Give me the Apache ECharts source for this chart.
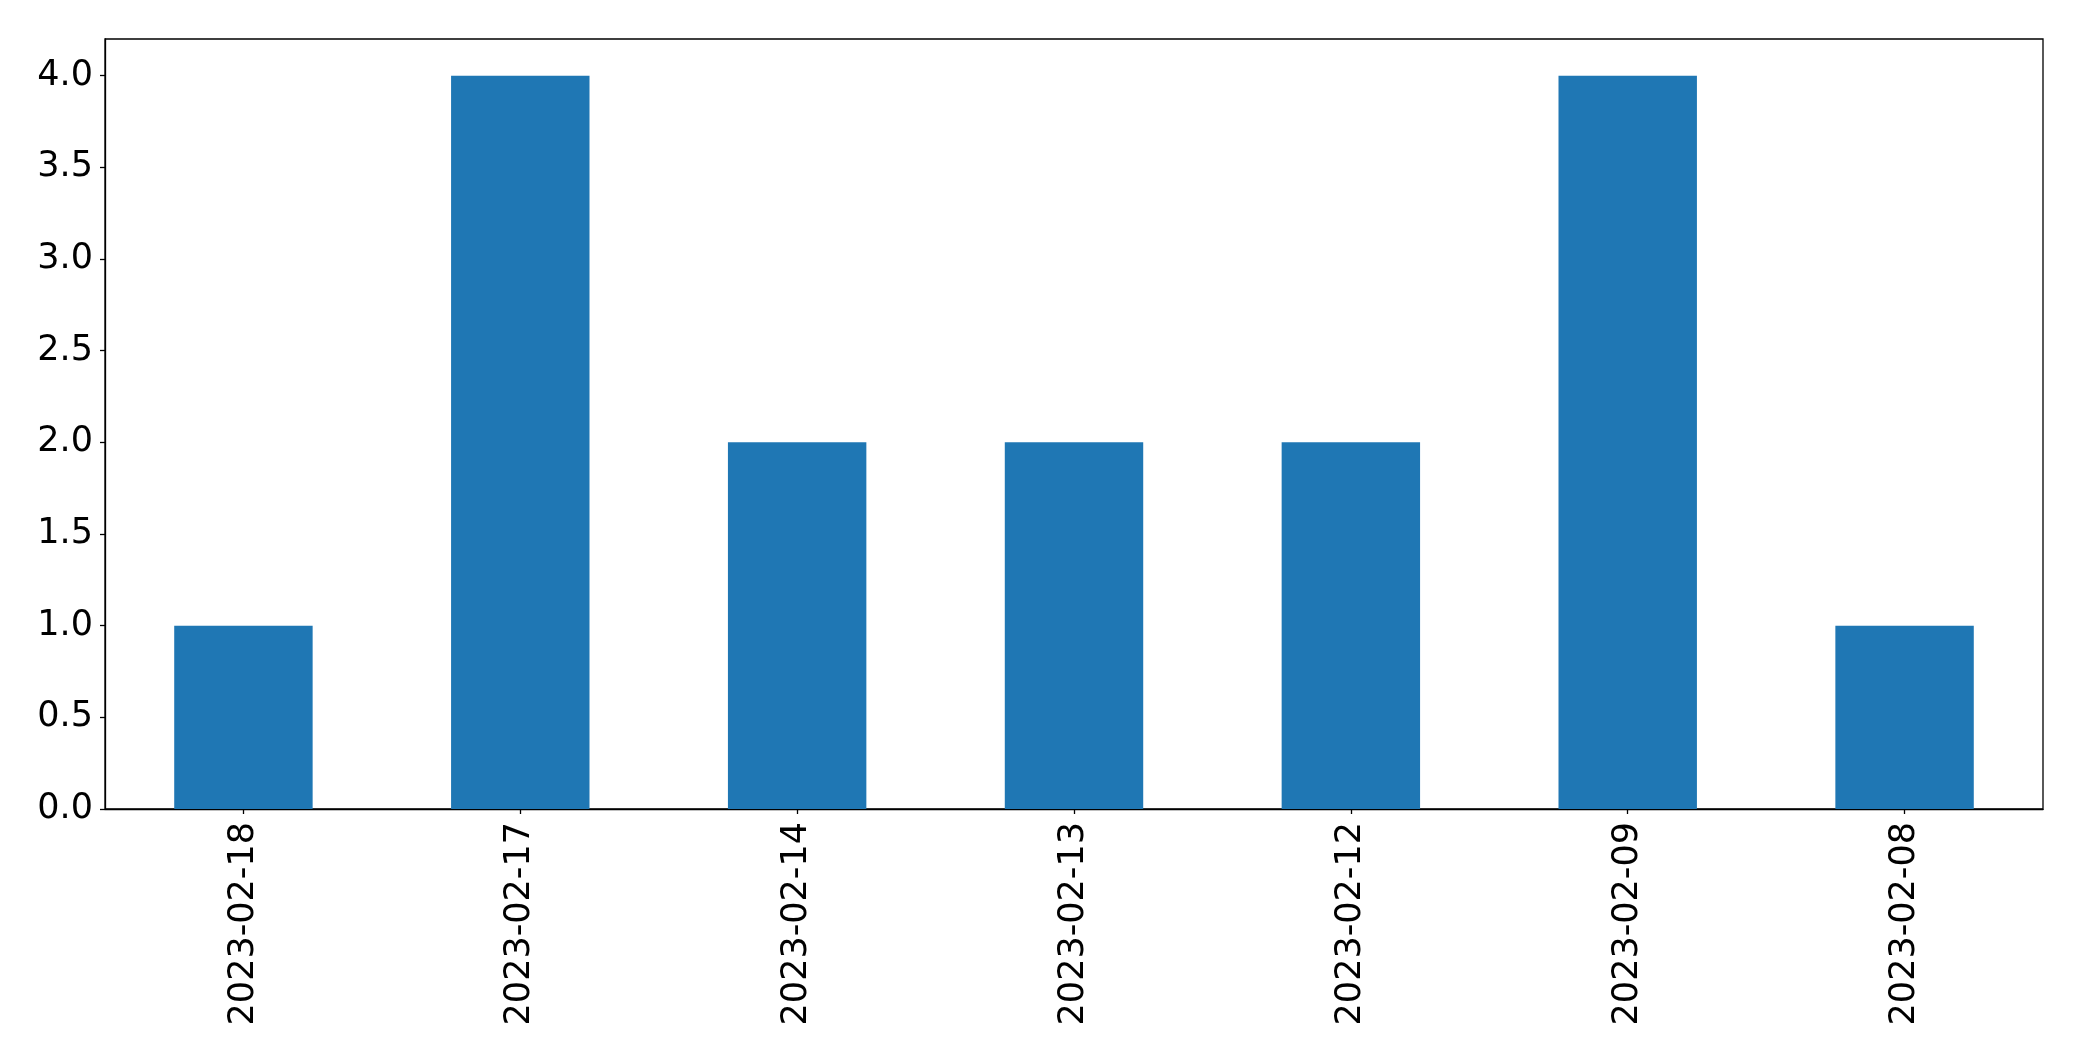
<!DOCTYPE html>
<html><head><meta charset="utf-8">
<script src="https://cdn.jsdelivr.net/npm/echarts@6/dist/echarts.min.js"></script>
<style>html,body{margin:0;padding:0;background:#fff}#c{width:2082px;height:1061px}</style>
</head><body><div id="c"></div>
<script>
const categories = ['2023-02-18','2023-02-17','2023-02-14','2023-02-13','2023-02-12','2023-02-09','2023-02-08'];
const values = [1, 4, 2, 2, 2, 4, 1];
const yTicks = [0, 0.5, 1, 1.5, 2, 2.5, 3, 3.5, 4];

const chart = echarts.init(document.getElementById('c'), null, {renderer: 'canvas'});
const font = 'DejaVu Sans';
chart.setOption({
  animation: false,
  grid: {left: 105, right: 39, top: 39, bottom: 252, show: true, borderColor: '#000', borderWidth: 1.3, backgroundColor: 'transparent'},
  xAxis: {
    type: 'category', data: categories,
    axisLine: {show: true, lineStyle: {color: '#000', width: 1.3}},
    axisTick: {show: true, alignWithLabel: true, length: 5, lineStyle: {color: '#000', width: 1.3}},
    axisLabel: {rotate: 90, margin: 13, color: '#000', fontFamily: font, fontSize: 35, interval: 0},
    splitLine: {show: false}
  },
  yAxis: {
    type: 'value', min: 0, max: 4.2, interval: 0.5,
    axisLine: {show: true, lineStyle: {color: '#000', width: 1.3}},
    axisTick: {show: true, length: 5, customValues: yTicks, lineStyle: {color: '#000', width: 1.3}},
    axisLabel: {margin: 12, color: '#000', fontFamily: font, fontSize: 35, customValues: yTicks,
      padding: [5, 0, 0, 0],
      formatter: v => v.toFixed(1)},
    splitLine: {show: false}
  },
  series: [{
    type: 'bar', data: values, barWidth: '50%',
    itemStyle: {color: '#1f77b4'}
  }]
});
</script></body></html>
